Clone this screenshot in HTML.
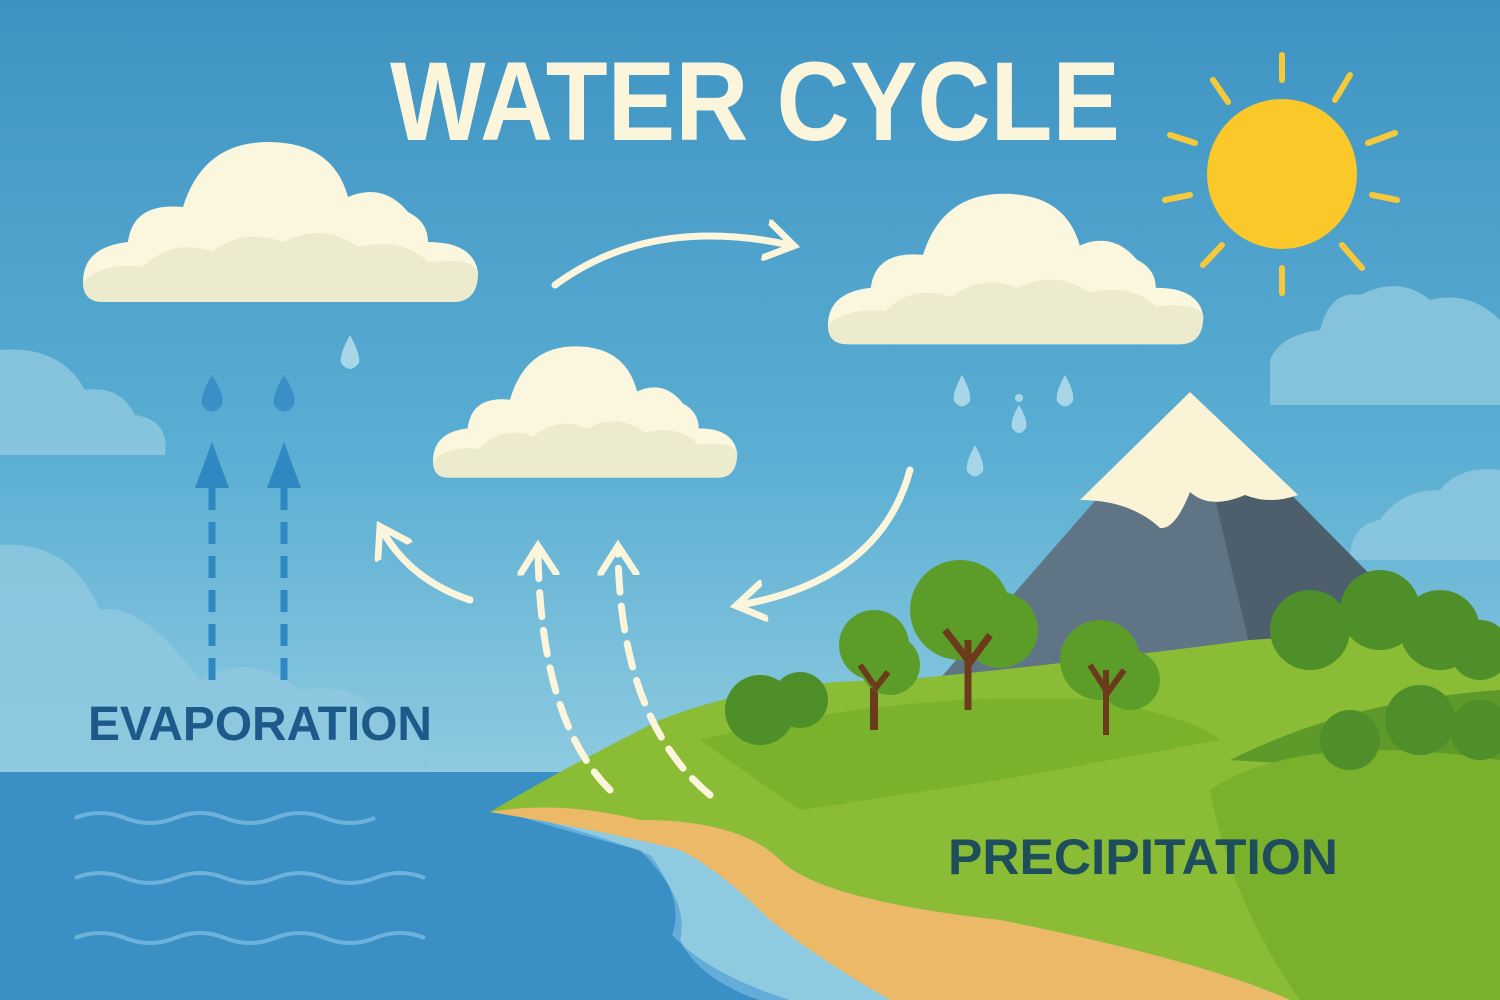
<!DOCTYPE html>
<html><head><meta charset="utf-8"><style>
html,body{margin:0;padding:0;width:1500px;height:1000px;overflow:hidden}
svg{display:block}
</style></head><body>
<svg width="1500" height="1000" viewBox="0 0 1500 1000" xmlns="http://www.w3.org/2000/svg">
<defs>
<linearGradient id="sky" x1="0" y1="0" x2="0" y2="1">
<stop offset="0" stop-color="#3f93c2"/><stop offset="0.45" stop-color="#5aaed3"/><stop offset="0.78" stop-color="#8fcbe0"/>
</linearGradient>
<g id="cloud">
<path d="M20,180 Q0,180 0,160 Q0,125 45,120 Q50,80 100,85 Q120,20 185,20 Q250,20 265,75 Q300,60 325,90 Q345,100 345,120 Q390,120 395,150 Q395,180 370,180 Z" fill="#fbf7df"/>
<path d="M20,180 Q0,180 0,160 Q20,140 60,145 Q90,115 130,130 Q160,105 200,120 Q240,100 275,125 Q320,115 345,140 Q390,135 395,150 Q395,180 370,180 Z" fill="#ecebce"/>
</g>
<marker id="ah" viewBox="0 0 10 10" refX="6" refY="5" markerWidth="6" markerHeight="6" orient="auto"><path d="M0,0.5 L7,5 L0,9.5" fill="none" stroke="#fbf5dc" stroke-width="1.6" stroke-linecap="round"/></marker>
</defs>
<rect width="1500" height="1000" fill="url(#sky)"/>
<g fill="#8ec8df" opacity="0.85">
<path d="M0,455 L165,455 Q170,420 135,415 Q120,385 85,390 Q60,345 0,350 Z"/>
<path d="M0,770 L430,770 Q420,720 380,720 Q360,680 300,690 Q250,650 200,680 Q140,600 100,610 Q70,540 0,545 Z"/>
<path d="M1270,405 L1500,405 L1500,320 Q1470,290 1430,300 Q1400,275 1360,295 Q1330,290 1320,330 Q1280,335 1270,360 Z"/>
<path d="M1350,560 L1500,560 L1500,470 Q1460,465 1440,490 Q1400,490 1380,520 Q1350,525 1350,560 Z"/>
</g>
<text x="390" y="140" textLength="730" lengthAdjust="spacingAndGlyphs" font-family="Liberation Sans, sans-serif" font-weight="bold" font-size="112" fill="#fbf5dc">WATER CYCLE</text>
<g stroke="#f6c93a" stroke-width="6" stroke-linecap="round">
<line x1="1282" y1="55" x2="1282" y2="80"/><line x1="1282" y1="268" x2="1282" y2="293"/>
<line x1="1165" y1="200" x2="1190" y2="195"/><line x1="1372" y1="195" x2="1397" y2="200"/>
<line x1="1170" y1="135" x2="1195" y2="143"/><line x1="1368" y1="143" x2="1395" y2="133"/>
<line x1="1213" y1="80" x2="1228" y2="102"/><line x1="1350" y1="75" x2="1335" y2="100"/>
<line x1="1203" y1="265" x2="1222" y2="245"/><line x1="1362" y1="268" x2="1342" y2="245"/>
</g>
<circle cx="1282" cy="174" r="75" fill="#fbc82a"/>
<use href="#cloud" transform="translate(83,122)"/>
<use href="#cloud" transform="translate(828,175) scale(0.95,0.94)"/>
<use href="#cloud" transform="translate(433,330) scale(0.77,0.82)"/>
<g fill="#3a8fc6">
<path d="M212,375 Q225,395 222,405 Q212,418 202,405 Q200,395 212,375Z"/>
<path d="M284,375 Q297,395 294,405 Q284,418 274,405 Q272,395 284,375Z"/>
</g>
<g fill="#a6d6e8">
<path d="M350,335 Q361,355 359,363 Q350,375 341,363 Q339,355 350,335Z"/>
<path d="M962,375 Q972,393 970,401 Q962,412 954,401 Q952,393 962,375Z"/>
<path d="M1065,375 Q1075,393 1073,401 Q1065,412 1057,401 Q1055,393 1065,375Z"/>
<path d="M1019,405 Q1028,420 1026,428 Q1019,438 1012,428 Q1010,420 1019,405Z"/>
<path d="M975,445 Q985,463 983,471 Q975,482 967,471 Q965,463 975,445Z"/>
<circle cx="1019" cy="398" r="4"/>
</g>
<g stroke="#2f88c2" stroke-width="7" stroke-dasharray="22,12" fill="none">
<line x1="212" y1="680" x2="212" y2="480"/><line x1="284" y1="680" x2="284" y2="480"/>
</g>
<g fill="#2f88c2"><path d="M195,488 L212,442 L229,488 Z"/><path d="M267,488 L284,442 L301,488 Z"/></g>
<path d="M0,772 L600,772 Q520,790 500,810 Q560,830 640,850 Q690,900 680,940 Q700,980 760,1000 L0,1000 Z" fill="#3a8fc4"/>
<path d="M500,810 Q580,828 650,855 Q685,900 672,935 Q710,975 790,1000 L760,1000 Q700,980 680,940 Q690,900 640,850 Q560,830 500,810Z" fill="#64addb"/>
<g stroke="#6db2dc" stroke-width="4" fill="none">
<path d="M75,818 q25,-10 50,0 t50,0 t50,0 t50,0 t50,0 t50,0"/>
<path d="M75,878 q25,-10 50,0 t50,0 t50,0 t50,0 t50,0 t50,0 t50,0"/>
<path d="M75,938 q25,-10 50,0 t50,0 t50,0 t50,0 t50,0 t50,0 t50,0"/>
</g>
<path d="M930,690 L1190,392 L1395,600 L1395,690 Z" fill="#5f7484"/>
<path d="M1190,392 L1395,600 L1395,690 L1260,690 Z" fill="#4d5f6d"/>
<path d="M1190,392 L1298,495 Q1270,505 1245,495 Q1210,510 1190,492 Q1175,530 1160,528 Q1130,500 1080,500 Z" fill="#fbf3d6"/>
<path d="M490,812 Q560,770 660,720 Q760,680 900,680 Q1100,660 1250,640 Q1400,630 1500,640 L1500,1000 L1290,1000 Q1200,960 1000,920 Q820,900 780,860 Q740,820 640,820 Z" fill="#8abc35"/>
<path d="M700,740 Q900,690 1100,700 Q1200,720 1220,740 L1000,780 L800,810 Z" fill="#7bb22c"/>
<path d="M1230,760 Q1350,700 1500,690 L1500,780 Q1400,770 1230,760Z" fill="#5d9a2a"/>
<path d="M1210,790 Q1300,730 1500,760 L1500,1000 L1300,1000 Q1230,900 1210,790Z" fill="#79b02c"/>
<g fill="#4f8f2a">
<circle cx="760" cy="710" r="35"/><circle cx="800" cy="700" r="28"/>
<circle cx="1310" cy="630" r="40"/><circle cx="1380" cy="610" r="40"/><circle cx="1440" cy="630" r="40"/><circle cx="1480" cy="650" r="30"/>
<circle cx="1350" cy="740" r="30"/><circle cx="1420" cy="720" r="35"/><circle cx="1480" cy="730" r="30"/>
</g>
<path d="M490,812 Q560,800 640,820 Q740,820 780,860 Q820,900 1000,920 Q1200,960 1290,1000 L890,1000 Q820,960 770,920 Q720,870 680,850 Q600,830 490,812Z" fill="#ebb968"/>
<g>
<rect x="870" y="650" width="8" height="80" fill="#6b3b1c"/>
<circle cx="874" cy="645" r="35" fill="#5c9d2a"/><circle cx="890" cy="665" r="30" fill="#5c9d2a"/>
<path d="M874,700 L874,730 M874,685 L860,665 M874,690 L888,672" stroke="#6b3b1c" stroke-width="6"/>
<circle cx="960" cy="610" r="50" fill="#5c9d2a"/><circle cx="1000" cy="630" r="38" fill="#5c9d2a"/>
<path d="M968,710 L968,640 M968,660 L945,630 M968,665 L990,635" stroke="#6b3b1c" stroke-width="7"/>
<circle cx="1100" cy="660" r="40" fill="#5c9d2a"/><circle cx="1130" cy="680" r="30" fill="#5c9d2a"/>
<path d="M1106,735 L1106,670 M1106,690 L1090,665 M1106,695 L1124,670" stroke="#6b3b1c" stroke-width="6"/>
</g>
<g stroke="#fbf5dc" stroke-width="7" fill="none" stroke-linecap="round">
<path d="M555,285 Q650,215 790,245" marker-end="url(#ah)"/>
<path d="M910,470 Q880,580 740,605" marker-end="url(#ah)"/>
<path d="M470,600 Q410,580 382,530" marker-end="url(#ah)"/>
<path d="M610,790 Q540,720 538,550" stroke-dasharray="24,14" marker-end="url(#ah)"/>
<path d="M710,795 Q620,720 618,550" stroke-dasharray="24,14" marker-end="url(#ah)"/>
</g>
<text x="88" y="740" textLength="344" lengthAdjust="spacingAndGlyphs" font-family="Liberation Sans, sans-serif" font-weight="bold" font-size="48" fill="#1d5a8a">EVAPORATION</text>
<text x="948" y="874" textLength="390" lengthAdjust="spacingAndGlyphs" font-family="Liberation Sans, sans-serif" font-weight="bold" font-size="50" fill="#1e4d5c">PRECIPITATION</text>
</svg>
</body></html>
